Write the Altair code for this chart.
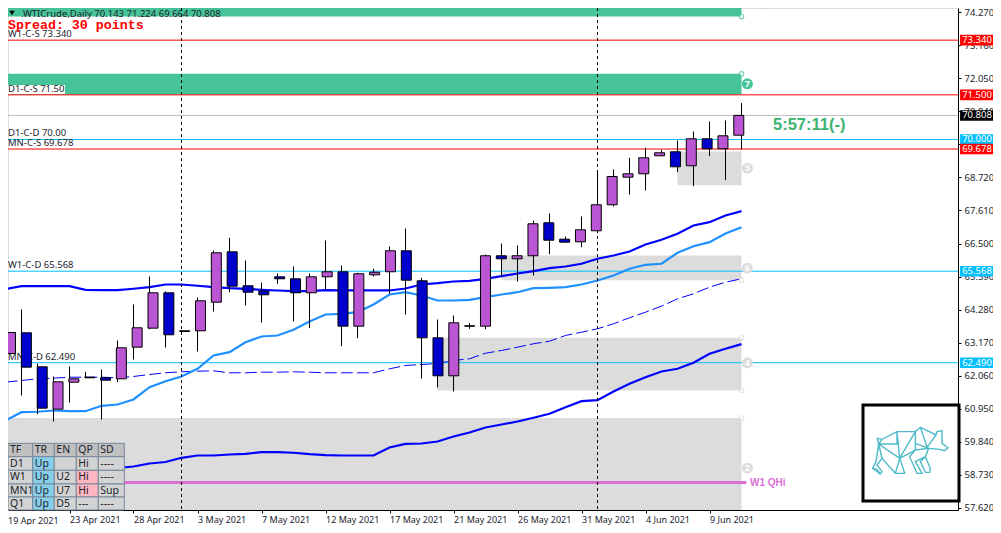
import altair as alt
import pandas as pd

# ---------- data ----------
OPEN = [62.800,63.497,62.353,60.927,61.835,61.983,61.983,61.949,63.013,63.652,64.842,63.540,63.564,64.526,66.221,65.078,64.896,65.380,65.313,64.842,65.380,65.549,63.719,65.447,65.549,66.255,65.246,63.328,62.050,63.719,63.719,66.087,65.986,66.087,67.197,66.645,66.557,66.928,67.802,68.731,68.845,69.450,69.585,69.114,70.022,69.686,70.143]
HIGH = [63.608,64.280,62.464,62.027,62.363,62.185,62.262,63.238,64.449,65.390,64.886,63.591,64.684,66.265,66.692,65.929,65.189,65.491,65.727,65.491,66.601,65.760,65.515,65.650,66.400,67.005,65.347,63.944,64.079,63.820,66.130,66.500,66.433,67.274,67.510,66.736,67.409,68.889,68.990,69.383,69.719,69.652,69.965,70.268,70.604,70.638,71.224]
LOW = [62.733,61.388,60.759,60.513,61.152,61.976,60.581,61.835,62.599,63.618,63.002,63.517,62.868,64.213,64.862,64.415,63.843,65.145,63.877,63.652,64.930,63.046,63.315,65.390,64.809,64.112,61.959,61.657,61.522,63.631,63.618,65.367,65.222,65.424,66.141,66.544,66.376,66.928,67.745,68.149,68.283,69.450,68.899,68.428,69.437,68.630,69.664]
CLOSE = [63.507,62.340,60.961,61.848,61.949,62.003,61.902,62.992,63.665,64.842,63.430,63.564,64.573,66.188,65.064,64.862,64.775,65.313,64.842,65.380,65.549,63.719,65.481,65.535,66.255,65.266,63.328,62.050,63.833,63.732,66.087,65.986,66.087,67.163,66.611,66.544,66.961,67.802,68.754,68.845,69.383,69.551,69.080,70.022,69.686,70.123,70.808]

MA_THICK = [64.963,65.064,65.064,65.064,65.064,64.943,64.930,64.930,64.977,65.031,65.121,65.121,65.078,65.031,64.997,64.977,64.943,64.920,64.896,64.896,64.930,64.920,64.920,64.920,64.920,64.987,65.121,65.165,65.222,65.246,65.313,65.401,65.491,65.569,65.670,65.727,65.818,65.986,66.097,66.231,66.467,66.625,66.827,67.106,67.217,67.442,67.587]
MA_LIGHT = [60.547,60.826,60.840,60.883,60.860,60.860,61.041,61.085,61.253,61.667,61.869,62.027,62.286,62.733,62.844,63.180,63.372,63.406,63.598,63.877,64.112,64.136,64.190,64.449,64.785,64.862,64.751,64.583,64.583,64.607,64.694,64.785,64.862,64.997,65.010,65.031,65.121,65.256,65.424,65.650,65.784,65.818,66.188,66.410,66.544,66.837,67.049]
MA_DASH = [61.835,61.892,61.949,61.970,62.003,62.003,62.003,61.983,62.027,62.094,62.151,62.185,62.205,62.218,62.151,62.151,62.171,62.171,62.185,62.171,62.151,62.151,62.151,62.151,62.286,62.397,62.430,62.464,62.565,62.622,62.810,62.901,63.013,63.127,63.214,63.406,63.517,63.631,63.800,64.001,64.190,64.392,64.640,64.808,65.031,65.199,65.313]
MA_LOW_START = 7
MA_LOW = [58.949,59.000,59.100,59.151,59.292,59.370,59.370,59.403,59.427,59.480,59.480,59.461,59.414,59.380,59.370,59.370,59.370,59.639,59.757,59.773,59.841,60.009,60.144,60.311,60.412,60.513,60.638,60.772,60.994,61.196,61.230,61.522,61.781,62.003,62.195,62.286,62.488,62.794,62.962,63.117]

DATES = ["19 Apr 2021","23 Apr 2021","28 Apr 2021","3 May 2021","7 May 2021","12 May 2021","17 May 2021","21 May 2021","26 May 2021","31 May 2021","4 Jun 2021","9 Jun 2021"]
Y_TICKS = [74.27,73.16,72.05,70.94,69.83,68.72,67.61,66.5,65.39,64.28,63.17,62.06,60.95,59.84,58.73,57.62]

LEVEL_NAMES = ["W1-C-S","D1-C-S","D1-C-D","MN-C-S","W1-C-D","MN-C-D"]
LEVEL_TEXT = ["73.340","71.50","70.00","69.678","65.568","62.490"]
LEVEL_PRICE = [73.34,71.5,70.0,69.678,65.568,62.49]
LEVEL_FLAG = ["73.340","71.500","70.000","69.678","65.568","62.490"]
LEVEL_COL = ["#FF0000","#FF0000","#00BFFF","#FF0000","#00BFFF","#00BFFF"]
BID = 70.808
QHI = 58.46

ZONE_START = [0,0,42,31,27,0]
ZONE_TOP = [74.6,72.208,69.595,66.097,63.328,60.631]
ZONE_BOT = [74.136,71.5,68.462,65.266,61.556,57.4]
ZONE_COL = ["#46C399","#46C399","#DCDCDC","#DCDCDC","#DCDCDC","#DCDCDC"]
HANDLE_PRICE = [74.136,72.208,65.266,63.328,61.556,60.631]
HANDLE_COL = ["#46C399","#46C399","#DCDCDC","#DCDCDC","#DCDCDC","#DCDCDC"]
BADGE_TEXT = ["7","3","6","4","2"]
BADGE_PRICE = [71.872,69.033,65.670,62.488,58.943]
BADGE_COL = ["#46C399","#DCDCDC","#DCDCDC","#DCDCDC","#DCDCDC"]
SESSION_IDX = [11,37]

TABLE_HEAD = ["TF","TR","EN","QP","SD"]
TABLE_ROWS = [["D1","Up","","Hi","----"],["W1","Up","U2","Hi","----"],["MN1","Up","U7","Hi","Sup"],["Q1","Up","D5","---","----"]]

# outline of the bear logo, in logo units
BEAR = [
 [(50,72),(46,55),(60,58),(105,35),(160,35),(175,22),(222,45),(225,35),(240,32),(240,70),(258,83),(247,92),(233,88),(200,85),(160,70)],
 [(60,58),(50,72),(105,72),(105,35),(113,115),(160,35),(160,90),(113,115),(50,72),(42,125),(32,145),(55,162),(60,155),(45,135),(60,115),(100,160),(128,160),(113,115),(100,160)],
 [(175,22),(195,82),(222,45)],
 [(160,90),(200,85),(190,110),(205,145),(203,157),(190,157),(175,125),(190,110),(160,125),(180,160),(165,160),(143,110),(160,90)],
 [(60,115),(50,72)],
 [(32,145),(45,148),(55,162)],
]

# ---------- layout ----------
W, H = 950, 502
D0 = 0.15625
xs = alt.Scale(domain=[D0, D0 + W / 16], nice=False, zero=False)
ys = alt.Scale(domain=[57.536, 74.4213], nice=False, zero=False)
pxs = alt.Scale(domain=[8, 958], nice=False, zero=False)
pys = alt.Scale(domain=[510, 8], nice=False, zero=False)
IDX = lambda f="i": alt.X(f"{f}:Q", scale=xs, axis=None)
PRI = lambda f="p": alt.Y(f"{f}:Q", scale=ys, axis=None)
PX = lambda f="x": alt.X(f"{f}:Q", scale=pxs, axis=None)
PY = lambda f="y": alt.Y(f"{f}:Q", scale=pys, axis=None)
FONT = "Noto Sans"
DARK = "#20242C"

layers = []

# axes carrier (drawn first, under everything)
label_expr = "[" + ",".join(f"'{d}'" for d in DATES[1:]) + "][datum.value/4-1]"
axes = alt.Chart(pd.DataFrame({"i": [4], "p": [60.0]})).mark_point(opacity=0).encode(
    x=alt.X("i:Q", scale=xs, title=None, axis=alt.Axis(
        values=[4 * k for k in range(1, len(DATES))], labelExpr=label_expr, orient="bottom",
        grid=False, tickSize=3, tickColor="black", domainColor="black", labelAlign="left",
        labelFont=FONT, labelFontSize=9, labelColor=DARK, labelPadding=2, labelOverlap=False,
        labelBound=False, labelFlush=False)),
    y=alt.Y("p:Q", scale=ys, title=None, axis=alt.Axis(
        values=Y_TICKS, format=".3f", orient="right", grid=False, tickSize=3, tickColor="black",
        domainColor="black", labelFont=FONT, labelFontSize=9.5, labelColor=DARK, labelPadding=3,
        labelOverlap=False, labelBound=False, labelFlush=False)),
)
layers.append(axes)

zones = pd.DataFrame({"i": ZONE_START, "i2": [46] * 6, "p": ZONE_TOP, "p2": ZONE_BOT, "c": ZONE_COL})
layers.append(alt.Chart(zones).mark_rect(clip=True).encode(
    x=IDX(), x2="i2:Q", y=PRI(), y2="p2:Q", color=alt.Color("c:N", scale=None)))

levels = pd.DataFrame({"n": LEVEL_NAMES, "t": LEVEL_TEXT, "p": LEVEL_PRICE, "f": LEVEL_FLAG, "c": LEVEL_COL})
levels["label"] = levels["n"] + " " + levels["t"]

# white plate behind the D1-C-S text
layers.append(alt.Chart(pd.DataFrame({"x": [8], "x2": [65], "y": [85], "y2": [94]})).mark_rect(color="white").encode(
    x=PX(), x2="x2:Q", y=PY(), y2="y2:Q"))

layers.append(alt.Chart(pd.DataFrame({"p": [BID]})).mark_rule(color="#BEBEBE", strokeWidth=1).encode(y=PRI()))
layers.append(alt.Chart(levels).mark_rule(strokeWidth=1).encode(y=PRI(), color=alt.Color("c:N", scale=None)))

layers.append(alt.Chart(pd.DataFrame({"i": [0], "i2": [46.3], "p": [QHI]})).mark_rule(color="#DA70D6", strokeWidth=3, clip=True).encode(
    x=IDX(), x2="i2:Q", y=PRI()))

layers.append(alt.Chart(levels).mark_text(align="left", baseline="middle", font=FONT, fontSize=9.5, color=DARK, dy=-6).encode(
    x=alt.value(0), y=PRI(), text="label:N"))

n = len(OPEN)
ma = pd.DataFrame({"i": list(range(n)), "a": MA_THICK, "b": MA_LIGHT, "c": MA_DASH})
low = pd.DataFrame({"i": list(range(MA_LOW_START, MA_LOW_START + len(MA_LOW))), "p": MA_LOW})
layers.append(alt.Chart(low).mark_line(color="#0000FF", strokeWidth=2.2).encode(x=IDX(), y=PRI()))
layers.append(alt.Chart(ma).mark_line(color="#0000FF", strokeWidth=1, strokeDash=[12, 4]).encode(x=IDX(), y=PRI("c")))
layers.append(alt.Chart(ma).mark_line(color="#1E90FF", strokeWidth=2.2, clip=True).encode(x=IDX(), y=PRI("b")))
layers.append(alt.Chart(ma).mark_line(color="#0000FF", strokeWidth=2.2, clip=True).encode(x=IDX(), y=PRI("a")))

layers.append(alt.Chart(pd.DataFrame({"i": SESSION_IDX})).mark_rule(color="black", strokeWidth=1, strokeDash=[3, 3]).encode(x=IDX()))

candles = pd.DataFrame({"i": list(range(n)), "o": OPEN, "h": HIGH, "l": LOW, "c": CLOSE})
candles["fill"] = [
    "black" if abs(c - o) < 0.03 else ("#BA55D3" if c > o else "#0000CD") for o, c in zip(OPEN, CLOSE)
]
layers.append(alt.Chart(candles).mark_rule(color="black", strokeWidth=1, clip=True).encode(x=IDX(), y=PRI("h"), y2="l:Q"))
layers.append(alt.Chart(candles).mark_bar(size=10, stroke="black", strokeWidth=1, clip=True).encode(
    x=IDX(), y=PRI("o"), y2="c:Q", color=alt.Color("fill:N", scale=None)))

handles = pd.DataFrame({"i": [46] * len(HANDLE_PRICE), "p": HANDLE_PRICE, "c": HANDLE_COL})
layers.append(alt.Chart(handles).mark_point(filled=True, fill="white", size=20, strokeWidth=1.2).encode(
    x=IDX(), y=PRI(), stroke=alt.Stroke("c:N", scale=None)))

badges = pd.DataFrame({"i": [46.37] * len(BADGE_TEXT), "p": BADGE_PRICE, "c": BADGE_COL, "t": BADGE_TEXT})
layers.append(alt.Chart(badges).mark_point(filled=True, size=120, opacity=1).encode(
    x=IDX(), y=PRI(), color=alt.Color("c:N", scale=None)))
layers.append(alt.Chart(badges).mark_text(font=FONT, fontSize=9, fontWeight="bold", color="white").encode(
    x=IDX(), y=PRI(), text="t:N"))

# price flags on the right edge
flags = pd.DataFrame({
    "t": LEVEL_FLAG + [f"{BID:.3f}"], "p": LEVEL_PRICE + [BID],
    "c": LEVEL_COL + ["#000000"]})
flags["i"] = 59.66
flags["i2"] = 61.9
flags["im"] = 60.72
flags["top"] = flags["p"] + 0.178
flags["bot"] = flags["p"] - 0.178
layers.append(alt.Chart(flags).mark_rect().encode(
    x=IDX(), x2="i2:Q", y=PRI("top"), y2="bot:Q", color=alt.Color("c:N", scale=None)))
layers.append(alt.Chart(flags).mark_text(font=FONT, fontSize=9.5, color="white").encode(
    x=IDX("im"), y=PRI(), text="t:N"))

# text annotations
def note(text, x, y, **kw):
    base = dict(align="left", baseline="middle")
    base.update(kw)
    return alt.Chart(pd.DataFrame({"x": [x], "y": [y], "t": [text]})).mark_text(**base).encode(x=PX(), y=PY(), text="t:N")

layers.append(note(".WTICrude,Daily  70.143 71.224 69.664 70.808", 21, 13.5, font=FONT, fontSize=9.5, color=DARK))
layers.append(note("Spread: 30 points", 8, 24.5, font="Liberation Mono", fontSize=13.3, fontWeight="bold", color="#FF0000"))
layers.append(note("5:57:11(-)", 773, 124.5, font="Liberation Sans", fontSize=16.5, fontWeight="bold", color="#3CB371"))
layers.append(note("W1 QHi", 750, 482.5, font="Liberation Sans", fontSize=10, fontWeight="bold", color="#DA70D6"))
layers.append(note("19 Apr 2021", 8, 520.5, font=FONT, fontSize=9, color=DARK))

tri = pd.DataFrame({"x": [12, 765], "y": [13, 7], "c": ["#000000", "#B4B4B4"]})
layers.append(alt.Chart(tri).mark_point(shape="triangle-down", filled=True, size=30, opacity=1).encode(
    x=PX(), y=PY(), color=alt.Color("c:N", scale=None)))

# status table
COLS = [8, 32.7, 54.3, 76.3, 98.3, 124.3]
ROWS = [443.3, 456.7, 470.3, 484, 497, 510]
cells = []
for r, row in enumerate([TABLE_HEAD] + TABLE_ROWS):
    for c, txt in enumerate(row):
        if r == 0:
            fill = "#C0C0C0"
        elif c == 1:
            fill = "#87CEEB"
        elif c == 3 and r in (2, 3):
            fill = "#FFB6C1"
        else:
            fill = "#D3D3D3"
        cells.append({"x": COLS[c], "x2": COLS[c + 1], "y": ROWS[r], "y2": ROWS[r + 1],
                      "tx": COLS[c] + 2, "ty": (ROWS[r] + ROWS[r + 1]) / 2, "t": txt, "fill": fill})
cells = pd.DataFrame(cells)
layers.append(alt.Chart(cells).mark_rect(stroke="#778899", strokeWidth=1).encode(
    x=PX(), x2="x2:Q", y=PY(), y2="y2:Q", color=alt.Color("fill:N", scale=None)))
layers.append(alt.Chart(cells).mark_text(align="left", baseline="middle", font=FONT, fontSize=10.5, color=DARK).encode(
    x=PX("tx"), y=PY("ty"), text="t:N"))

# logo box and bear
layers.append(alt.Chart(pd.DataFrame({"x": [863], "x2": [959], "y": [405], "y2": [501]})).mark_rect(
    fill="white", stroke="black", strokeWidth=3).encode(x=PX(), x2="x2:Q", y=PY(), y2="y2:Q"))
bear_rows = []
for s, seg in enumerate(BEAR):
    for k, (a, b) in enumerate(seg):
        bear_rows.append({"s": s, "k": k, "x": 862 + a / 3, "y": 420 + b / 3})
layers.append(alt.Chart(pd.DataFrame(bear_rows)).mark_line(color="#4FBBC9", strokeWidth=1.4).encode(
    x=PX(), y=PY(), detail="s:N", order="k:Q"))

chart = alt.layer(*layers).resolve_scale(x="independent", y="independent").properties(
    width=W, height=H,
    padding={"left": 0, "top": 0, "right": 35, "bottom": 15},
    autosize=alt.AutoSizeParams(type="none"),
).configure_view(stroke="black", strokeWidth=1).configure(background="white")

chart.save("out.html", embed_options={"renderer": "svg", "actions": False})
